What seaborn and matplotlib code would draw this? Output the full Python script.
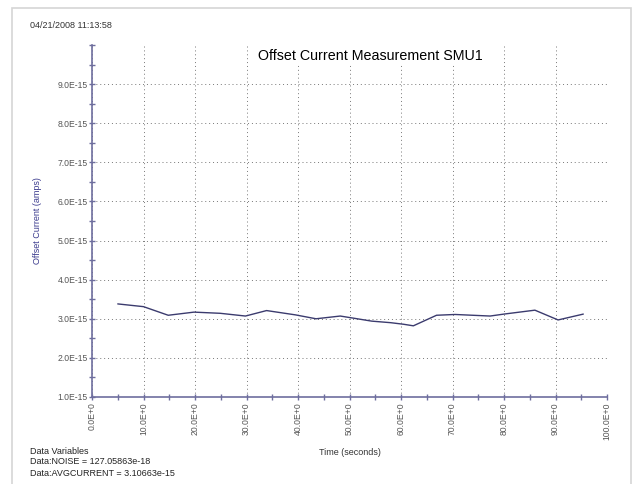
import numpy as np
import pandas as pd
import seaborn as sns
import matplotlib.pyplot as plt
from matplotlib.ticker import FuncFormatter, MultipleLocator
from matplotlib.patches import Rectangle

# data
time_s = [5, 10, 14.8, 19.8, 24.9, 29.8, 33.9, 39.5, 43.5, 48.2, 50.1, 54.3,
          58, 60.5, 62.4, 66.9, 70.5, 77.3, 80, 86, 90.5, 95.4]
current_fA = [3.38, 3.31, 3.09, 3.17, 3.14, 3.07, 3.21, 3.10, 3.00, 3.07, 3.03, 2.94,
              2.90, 2.86, 2.82, 3.09, 3.11, 3.07, 3.12, 3.22, 2.97, 3.12]
current = [v * 1e-15 for v in current_fA]

df = pd.DataFrame({'Time': time_s, 'Current': current})

sns.set_style('white')
plt.rcParams['font.family'] = ['Liberation Sans', 'DejaVu Sans']

fig = plt.figure(figsize=(6.39, 4.84), dpi=100)
ax = fig.add_axes([92/639, 1 - 397/484, (607 - 92)/639, (397 - 45)/484])

sns.lineplot(x='Time', y='Current', data=df, color='#3b3b6e', linewidth=1.0, ax=ax)

axis_col = '#6e6e9e'
ax.set_xlim(0, 100)
ax.set_ylim(1e-15, 10e-15)
ax.xaxis.set_major_locator(MultipleLocator(10))
ax.xaxis.set_minor_locator(MultipleLocator(5))
ax.yaxis.set_major_locator(MultipleLocator(1e-15))
ax.yaxis.set_minor_locator(MultipleLocator(0.5e-15))
ax.xaxis.set_major_formatter(FuncFormatter(lambda v, p: '%.1fE+0' % v))
ax.yaxis.set_major_formatter(FuncFormatter(lambda v, p: '%.1fE-15' % (v / 1e-15)))
ax.set_yticks([t * 1e-15 for t in range(1, 10)])

for s in ['top', 'right']:
    ax.spines[s].set_visible(False)
for s in ['left', 'bottom']:
    ax.spines[s].set_color(axis_col)
    ax.spines[s].set_linewidth(1.2)

ax.tick_params(axis='both', which='both', bottom=True, left=True, direction='inout',
               color=axis_col, labelcolor='#555555', labelsize=6.2, width=1, length=4)
ax.tick_params(axis='x', which='major', labelrotation=90, pad=2)
ax.tick_params(axis='y', which='major', pad=1)

ax.grid(True, which='major', linestyle=(0, (1, 3)), color='#777777', linewidth=0.7)

ax.set_xlabel('Time (seconds)', fontsize=6.5, color='#333333', labelpad=6)
ax.set_ylabel('Offset Current (amps)', fontsize=6.5, color='#3b3b8e', labelpad=11)

ax.text(0.54, 0.99, 'Offset Current Measurement SMU1', transform=ax.transAxes,
        fontsize=10.3, ha='center', va='top', color='black',
        bbox=dict(facecolor='white', edgecolor='none', pad=1.5))

fig.text(30/639, 1 - 25/484, '04/21/2008 11:13:58', fontsize=6.5, va='center',
         color='#333333')
fig.text(30/639, 1 - 451/484, 'Data Variables', fontsize=6.5, va='center', color='#222222')
fig.text(30/639, 1 - 462/484, 'Data:NOISE = 127.05863e-18', fontsize=6.5, va='center',
         color='#222222')
fig.text(30/639, 1 - 473/484, 'Data:AVGCURRENT = 3.10663e-15', fontsize=6.5, va='center',
         color='#222222')

fig.patches.append(Rectangle((12/639, -0.05), (631 - 12)/639, 1.05 - 8/484,
                             transform=fig.transFigure, fill=False,
                             edgecolor='#d5d5d5', linewidth=1.2))

plt.savefig('out.png', dpi=100)
